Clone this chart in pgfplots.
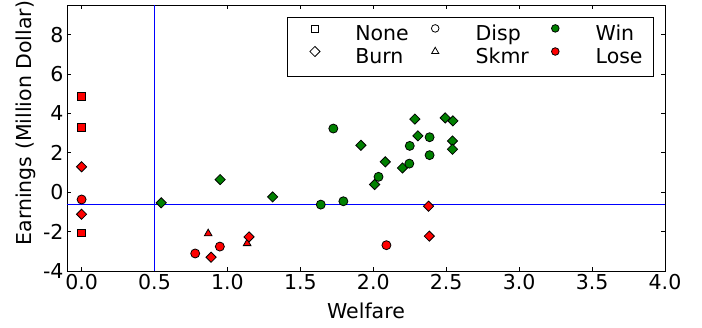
\documentclass[border=0pt]{standalone}
\usepackage{fontspec}
\setmainfont{DejaVu Sans}
\usepackage{pgfplots}
\pgfplotsset{compat=1.18}
\definecolor{mgreen}{rgb}{0,0.5,0}
\definecolor{mred}{rgb}{1,0,0}
\definecolor{mblue}{rgb}{0,0,1}
\newcommand{\tfont}{\fontsize{20.5bp}{24bp}\selectfont}
\pgfplotsset{
  legimg/.style={legend image code/.code={%
      \path (-16bp,0bp) (40bp,0bp);
      \draw[##1] plot coordinates {(0bp,7bp)};}},
}
\begin{document}
\begin{tikzpicture}
\begin{axis}[
  name=ax, at={(0,0)}, anchor=south west,
  scale only axis, width=598bp, height=266bp,
  xmin=-0.1, xmax=4.0, ymin=-4, ymax=9.5,
  axis line style={line width=0.8bp},
  tick style={black, line width=0.8bp},
  major tick length=4bp,
  tick align=inside,
  xtick={0,0.5,1,1.5,2,2.5,3,3.5,4},
  xticklabels={0.0,0.5,1.0,1.5,2.0,2.5,3.0,3.5,4.0},
  ytick={-4,-2,0,2,4,6,8},
  yticklabels={-4,-2,0,2,4,6,8},
  ticklabel style={font=\tfont},
  xlabel={Welfare}, ylabel={Earnings (Million Dollar)},
  label style={font=\tfont},
  xlabel style={yshift=-6bp},
  ylabel style={at={(ticklabel cs:0.556)}},
  legend columns=3,
  legend cell align=left,
  legend style={at={(0.9816,0.9549)}, anchor=north east, draw=black, line width=0.8bp,
    inner xsep=11bp, inner ysep=7bp, font=\tfont, column sep=0pt,
    /tikz/every even column/.append style={column sep=10bp},
    nodes={inner xsep=0pt, inner ysep=2bp, text height=14bp, text depth=4bp}},
]
% reference lines
\addplot[mblue, line width=1bp, forget plot] coordinates {(0.5,-4) (0.5,9.5)};
\addplot[mblue, line width=1bp, forget plot] coordinates {(-0.1,-0.65) (4.0,-0.65)};

% legend
\addlegendimage{legimg, only marks, mark=square, mark size=3.5bp, black, line width=0.8bp}
\addlegendentry{None}
\addlegendimage{legimg, only marks, mark=o, mark size=3.8bp, black, line width=0.8bp}
\addlegendentry{Disp}
\addlegendimage{legimg, only marks, mark=*, mark size=3.8bp, mark options={fill=mgreen, draw=black}, line width=0.8bp}
\addlegendentry{Win}
\addlegendimage{legimg, only marks, mark=square, mark size=3.6bp, mark options={rotate=45}, black, line width=0.8bp}
\addlegendentry{Burn}
\addlegendimage{legimg, only marks, mark=triangle, mark size=4.2bp, black, line width=0.8bp}
\addlegendentry{Skmr}
\addlegendimage{legimg, only marks, mark=*, mark size=3.8bp, mark options={fill=mred, draw=black}, line width=0.8bp}
\addlegendentry{Lose}

% None (square), red
\addplot[only marks, mark=square*, mark size=3.8bp, mark options={fill=mred, draw=black, line width=0.8bp}, forget plot]
coordinates {(0,4.87) (0,3.28) (0,-2.06)};
% Skmr (triangle), red
\addplot[only marks, mark=triangle*, mark size=4.4bp, mark options={fill=mred, draw=black, line width=0.8bp}, forget plot]
coordinates {(0.868,-2.10) (1.135,-2.60)};
% Burn (diamond), red
\addplot[only marks, mark=square*, mark size=3.6bp, mark options={rotate=45, fill=mred, draw=black, line width=0.8bp}, forget plot]
coordinates {(0,1.29) (0,-1.12) (0.888,-3.30) (1.148,-2.27) (2.379,-0.71) (2.384,-2.23)};
% Burn (diamond), green
\addplot[only marks, mark=square*, mark size=3.6bp, mark options={rotate=45, fill=mgreen, draw=black, line width=0.8bp}, forget plot]
coordinates {(0.546,-0.54) (0.95,0.64) (1.31,-0.24) (1.915,2.38) (2.082,1.54) (2.009,0.39) (2.20,1.23) (2.285,3.71) (2.306,2.86) (2.493,3.77) (2.546,3.62) (2.543,2.60) (2.543,2.18)};
% Disp (circle), red
\addplot[only marks, mark=*, mark size=4.5bp, mark options={fill=mred, draw=black, line width=0.8bp}, forget plot]
coordinates {(0,-0.37) (0.948,-2.76) (0.779,-3.11) (2.09,-2.69)};
% Disp (circle), green
\addplot[only marks, mark=*, mark size=4.5bp, mark options={fill=mgreen, draw=black, line width=0.8bp}, forget plot]
coordinates {(1.726,3.23) (2.036,0.78) (1.64,-0.63) (1.795,-0.46) (2.247,1.45) (2.25,2.35) (2.386,2.79) (2.386,1.88)};
\end{axis}
\pgfresetboundingbox
\path[use as bounding box] ([shift={(-67bp,-57bp)}]ax.south west) rectangle ([shift={(635bp,271bp)}]ax.south west);
\end{tikzpicture}
\end{document}
